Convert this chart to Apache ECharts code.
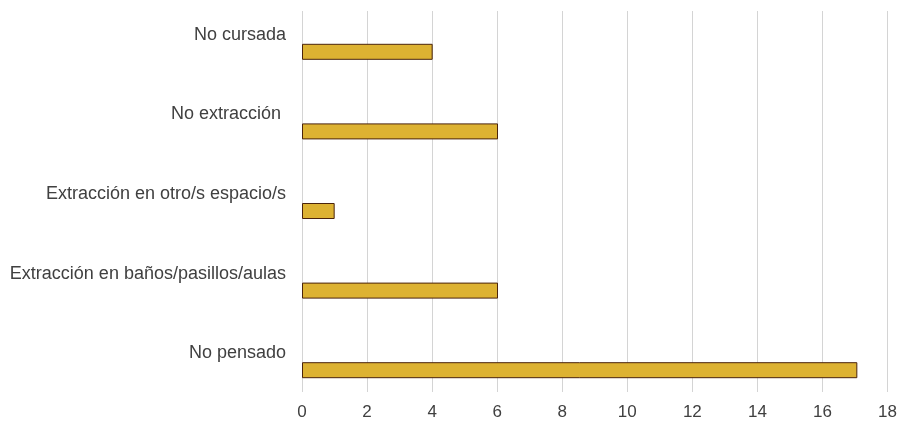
<!DOCTYPE html>
<html><head><meta charset="utf-8">
<script src="https://cdn.jsdelivr.net/npm/echarts@6/dist/echarts.min.js"></script>
<style>html,body{margin:0;padding:0;background:#fff}#c{width:900px;height:424px}</style>
</head><body><div id="c"></div>
<script>
const categories = ["No cursada", "No extracción ", "Extracción en otro/s espacio/s", "Extracción en baños/pasillos/aulas", "No pensado"];
const values = [4, 6, 1, 6, 17];
const xMin = 0, xMax = 18, xStep = 2;

const font = "'Liberation Sans', sans-serif";
const chart = echarts.init(document.getElementById('c'), null, {renderer: 'canvas'});
chart.setOption({
  animation: false,
  grid: [
    {left: 302, right: 10, top: 11, bottom: 32},
    {left: 302, right: 10, top: 12, bottom: 14}
  ],
  xAxis: [
    {gridIndex: 0, type: 'value', min: xMin, max: xMax, interval: xStep,
     axisLine: {show: false}, axisTick: {show: false},
     splitLine: {show: true, lineStyle: {color: '#d4d4d4', width: 1}},
     axisLabel: {color: '#404040', fontSize: 17, fontFamily: font, margin: 12}},
    {gridIndex: 1, type: 'value', min: xMin, max: xMax, interval: xStep, show: false,
     splitLine: {show: false}}
  ],
  yAxis: [
    {gridIndex: 0, type: 'category', data: categories, inverse: true, show: false},
    {gridIndex: 1, type: 'category', data: categories, inverse: true,
     axisLine: {show: false}, axisTick: {show: false},
     axisLabel: {color: '#404040', fontSize: 18, fontFamily: font, margin: 16,
                 verticalAlign: 'bottom', lineHeight: 34}}
  ],
  series: [{
    type: 'bar', xAxisIndex: 1, yAxisIndex: 1, data: values, barWidth: 16,
    itemStyle: {color: '#DDB232', borderColor: '#4a230c', borderWidth: 1}
  }]
});
</script></body></html>
